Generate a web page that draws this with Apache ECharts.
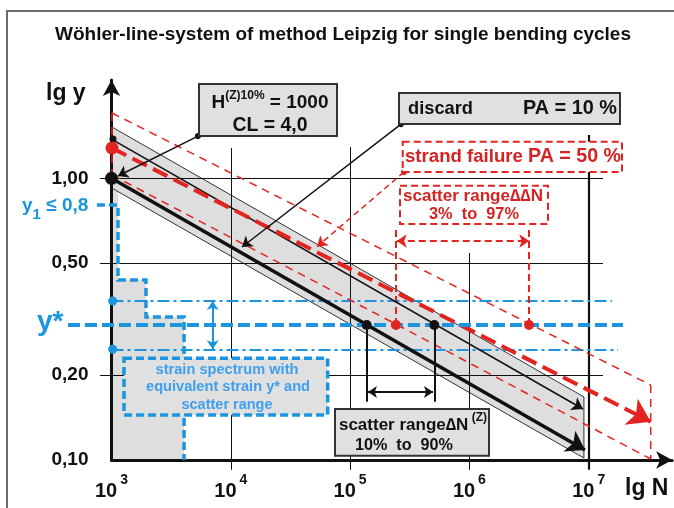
<!DOCTYPE html>
<html><head><meta charset="utf-8">
<script src="https://cdn.jsdelivr.net/npm/echarts@6/dist/echarts.min.js"></script>
<style>html,body{margin:0;padding:0;background:#fff}#c{width:674px;height:508px}</style>
</head><body><div id="c"></div>
<script>
// ---------- data (lg N , lg y) ----------
const xTicks = [3, 4, 5, 6, 7];
const xTickLabels = ['3', '4', '5', '6', '7'];
const yTickValues = [0, -0.301, -0.699, -1];
const yTickLabels = ['1,00', '0,50', '0,20', '0,10'];

const yStar = -0.521;            // equivalent strain y*
const yStarUpper = -0.4356;      // scatter band of spectrum
const yStarLower = -0.607;

// Wöhler lines
const lineH10 = [[3, 0], [6.969, -0.9645]];
const lineUpper = [[3, 0.139], [6.952, -0.819]];
const bandPoly = [[3, 0.183], [6.96, -0.776], [6.96, -0.993], [3, -0.034]];
const lineStrand50 = [[3.004, 0.1075], [7.52, -0.864]];
const redUpper = [[3.004, 0.232], [7.52, -0.734]];
const redLower = [[3.004, 0.0117], [5.385, -0.518], [7.52, -0.9964]];
const redLeftEdge = [[3.004, 0.232], [3.004, 0.0117]];
const redRightEdge = [[7.52, -0.734], [7.52, -0.9964]];

// strain spectrum staircase
const spectrumSteps = [[2.878, -0.0948], [3.0545, -0.0948], [3.0545, -0.361], [3.289, -0.361], [3.289, -0.4924], [3.608, -0.4924], [3.608, -1]];
const spectrumArea = [[3, -0.0415], [3.0545, -0.0415], [3.0545, -0.361], [3.289, -0.361], [3.289, -0.4924], [3.608, -0.4924], [3.608, -1], [3, -1]];

// points
const blackBig = [[3, 0]];
const blackSmall = [[3.0126, 0.1395]];
const blackStar = [[5.139, yStar], [5.706, yStar]];
const redBig = [[3.004, 0.1075]];
const redStar = [[5.385, yStar], [6.50, yStar]];
const blueDots = [[3.01, yStarUpper], [3.01, yStarLower]];

// scatter ranges
const dNVert = [[[5.139, yStar], [5.139, -0.793]], [[5.706, yStar], [5.706, -0.793]]];
const dNArrow = [[5.150, -0.7586], [5.695, -0.7586]];
const ddNVert = [[[5.385, yStar], [5.385, -0.1718]], [[6.50, yStar], [6.50, -0.1718]]];
const ddNArrow = [[5.391, -0.2226], [6.502, -0.2226]];
const blueArrow = [[3.848, yStarUpper], [3.848, yStarLower]];

// grid lines
const gridH = [[[2.904, 0], [7.12, 0]], [[2.904, -0.301], [7.12, -0.301]], [[2.904, -0.699], [7.12, -0.699]]];
const gridV = [[[4, 0.1076], [4, -1.035]], [[5, 0.111], [5, -1.035]], [[6, -0.2652], [6, -1.035]]];
const gridV7 = [[[7, 0.154], [7, -1.035]]];

// horizontal spectrum lines
const yStarLine = [[2.635, yStar], [7.288, yStar]];
const yStarUpperLine = [[3, yStarUpper], [7.195, yStarUpper]];
const yStarLowerLine = [[3, yStarLower], [7.246, yStarLower]];

// leader lines of the labels
const hLeader = [[3.725, 0.150], [3.0545, 0.0082]];
const discardLeader = [[5.427, 0.1925], [4.094, -0.2439]];
const strandLeader = [[5.452, 0.0224], [4.723, -0.2428]];

// ---------- styles ----------
const FONT = "'Liberation Sans', Arial, sans-serif";
const RED = '#e2231f', RED_T = '#d52222', BLUE = '#1a95de', BLUE_T = '#3e9fec', GRAY = '#dedede', INK = '#111';
const ctx = document.createElement('canvas').getContext('2d');
function fit(text, w, weight) {
  ctx.font = (weight || 'bold') + ' 20px ' + FONT;
  return Math.round(2000 * w / ctx.measureText(text).width) / 100;
}

const series = [];
function seg(list, color, width, type, symbol, symSize, z) {
  series.push({
    type: 'lines', coordinateSystem: 'cartesian2d', clip: false, silent: true, z: z,
    polyline: list.some(c => c.length > 2),
    symbol: symbol || ['none', 'none'], symbolSize: symSize || 10,
    lineStyle: { color: color, width: width, type: type || 'solid', opacity: 1 },
    data: list.map(c => ({ coords: c }))
  });
}
function dots(data, color, size, z) {
  series.push({ type: 'scatter', data: data, symbolSize: size, itemStyle: { color: color, opacity: 1 }, z: z, silent: true, clip: false });
}
function poly(points, fill, stroke, z) {
  series.push({
    type: 'custom', coordinateSystem: 'cartesian2d', z: z, silent: true, clip: false, data: [points[0]],
    renderItem: (p, api) => ({ type: 'polygon', shape: { points: points.map(pt => api.coord(pt)) }, style: { fill: fill, stroke: stroke || 'none', lineWidth: 1 } })
  });
}

poly(spectrumArea, GRAY, null, 1);
poly(bandPoly, GRAY, '#333', 1);
seg(gridH, INK, 1, 'solid', null, null, 2);
seg(gridV, INK, 1, 'solid', null, null, 2);
seg(gridV7, INK, 2.2, 'solid', null, null, 2);
seg([yStarUpperLine, yStarLowerLine], BLUE, 2, [12, 4, 3, 4], null, null, 6);
seg([redUpper, redLower, redLeftEdge, redRightEdge], RED, 1.5, [8, 6], null, null, 7);
seg(ddNVert, RED, 2, [7, 4], null, null, 7);
seg([ddNArrow], RED, 2, [7, 4], ['arrow', 'arrow'], 10, 7);
seg([lineUpper], INK, 1.6, 'solid', ['none', 'arrow'], 11, 8);
seg([lineH10], INK, 3.6, 'solid', ['none', 'arrow'], 18, 8);
seg(dNVert, INK, 2, 'solid', null, null, 8);
seg([dNArrow], INK, 1.8, 'solid', ['arrow', 'arrow'], 9, 8);
seg([lineStrand50], RED, 4, [16, 7], ['none', 'arrow'], 22, 9);
seg([yStarLine], BLUE, 4, [12, 5], null, null, 10);
seg([spectrumSteps], BLUE, 3.5, [8, 4], null, null, 10);
seg([blueArrow], BLUE, 2, 'solid', ['arrow', 'arrow'], 9, 10);
seg([hLeader, discardLeader], INK, 1.5, 'solid', ['circle', 'arrow'], [6, 10], 11);
seg([strandLeader], RED, 1.5, [6, 4], ['circle', 'arrow'], [6, 10], 11);
dots(blackBig, INK, 13, 12);
dots(blackSmall, INK, 7, 12);
dots(blackStar, INK, 10, 12);
dots(redBig, RED, 13, 12);
dots(redStar, RED, 10, 12);
dots(blueDots, BLUE, 9, 12);

function txt(text, x, y, size, color, align) {
  return { type: 'text', x: x, y: y, z: 110, silent: true,
    style: { text: text, font: 'bold ' + size + 'px ' + FONT, fill: color || INK, align: align || 'left', verticalAlign: 'middle' } };
}
function box(x, y, w, h, fill, stroke, lw, dash) {
  return { type: 'rect', z: 100, silent: true, shape: { x: x, y: y, width: w, height: h },
    style: { fill: fill, stroke: stroke, lineWidth: lw, lineDash: dash || null } };
}
function rich(text, x, y, align, color, styles) {
  return { type: 'text', x: x, y: y, z: 110, silent: true,
    style: { text: text, align: align, verticalAlign: 'middle', fill: color, rich: styles } };
}
const TITLE = 'Wöhler-line-system of method Leipzig for single bending cycles';
const T = {
  cl: 'CL = 4,0', discard: 'discard', pa10: 'PA = 10 %', strand: 'strand failure', pa50: 'PA = 50 %',
  dd1: 'scatter range∆∆N', dd2: '3%  to  97%', dn2: '10%  to  90%',
  b1: 'strain spectrum with', b2: 'equivalent strain y* and', b3: 'scatter range'
};

const graphic = [
  { type: 'polyline', z: 100, silent: true, shape: { points: [[7, 508], [7, 11], [674, 11]] }, style: { stroke: '#6b6b6b', lineWidth: 2, fill: null } },
  txt(TITLE, 343, 35, fit(TITLE, 576), INK, 'center'),
  txt('lg y', 46, 94, 23),
  txt('lg N', 625, 489, 23),
  rich('{a|y}{s|1}{a| ≤ 0,8}', 22, 209, 'left', BLUE, {
    a: { fontSize: 19, fontWeight: 'bold', fontFamily: FONT, fill: BLUE, lineHeight: 26, verticalAlign: 'top' },
    s: { fontSize: 15, fontWeight: 'bold', fontFamily: FONT, fill: BLUE, lineHeight: 26, verticalAlign: 'bottom' } }),
  txt('y*', 37, 322, 28, BLUE),
  // H box
  box(199, 84, 138, 52, '#e0e0e0', '#333', 2),
  rich('{b|H}{s|(Z)10%}{b| = 1000}', 270, 101, 'center', INK, {
    b: { fontSize: 19, fontWeight: 'bold', fontFamily: FONT, lineHeight: 22, verticalAlign: 'bottom' },
    s: { fontSize: 12, fontWeight: 'bold', fontFamily: FONT, lineHeight: 22, verticalAlign: 'top' } }),
  txt(T.cl, 270, 126, fit(T.cl, 75), INK, 'center'),
  // discard
  box(399, 93, 221, 31, '#e0e0e0', '#333', 2),
  txt(T.discard, 408, 109, fit(T.discard, 65)),
  txt(T.pa10, 617, 109, fit(T.pa10, 94), INK, 'right'),
  // strand failure
  box(402.7, 141.7, 219.3, 30.3, '#fff', RED, 2, [7, 4]),
  txt(T.strand, 405, 157, fit(T.strand, 118), RED_T),
  txt(T.pa50, 621, 157, fit(T.pa50, 93), RED_T, 'right'),
  // scatter range ΔΔN
  box(400, 185.7, 148, 38.3, '#fff', RED, 2, [7, 4]),
  txt(T.dd1, 473, 196, fit(T.dd1, 140), RED_T, 'center'),
  txt(T.dd2, 474, 214, fit(T.dd2, 90), RED_T, 'center'),
  // scatter range ΔN(Z)
  box(335, 409, 154, 46.7, '#e0e0e0', '#333', 2),
  rich('{b|scatter range∆N}{s| (Z)}', 413, 423, 'center', INK, {
    b: { fontSize: 17, fontWeight: 'bold', fontFamily: FONT, lineHeight: 22, verticalAlign: 'bottom' },
    s: { fontSize: 12, fontWeight: 'bold', fontFamily: FONT, lineHeight: 22, verticalAlign: 'top' } }),
  txt(T.dn2, 404, 446, fit(T.dn2, 98), INK, 'center'),
  // strain spectrum
  box(124, 358.3, 203.7, 56.7, '#e0e0e0', BLUE, 3.5, [8, 4]),
  txt(T.b1, 227, 370, fit(T.b1, 143), BLUE_T, 'center'),
  txt(T.b2, 228, 387, fit(T.b2, 164), BLUE_T, 'center'),
  txt(T.b3, 227, 405, fit(T.b3, 91), BLUE_T, 'center')
];

const chart = echarts.init(document.getElementById('c'), null, { renderer: 'canvas' });
chart.setOption({
  animation: false,
  backgroundColor: '#fff',
  grid: { left: 111.5, right: 1.8, top: 80, bottom: 48, containLabel: false, outerBoundsMode: 'none' },
  xAxis: {
    type: 'value', min: 3, max: 7.7, interval: 1, z: 5,
    axisLine: { show: true, onZero: false, symbol: ['none', 'arrow'], symbolSize: [13, 16], lineStyle: { color: INK, width: 3 } },
    axisTick: { show: false }, splitLine: { show: false },
    axisLabel: {
      margin: 13, showMaxLabel: false,
      formatter: v => { const i = xTicks.findIndex(t => Math.abs(t - v) < 1e-6); return i < 0 ? '' : '{b|10}{s|' + xTickLabels[i] + '}'; },
      rich: {
        b: { fontSize: 20, fontWeight: 'bold', fontFamily: FONT, color: INK, lineHeight: 28, verticalAlign: 'bottom' },
        s: { fontSize: 14, fontWeight: 'bold', fontFamily: FONT, color: INK, lineHeight: 28, verticalAlign: 'top', padding: [0, 0, 0, 3] }
      }
    }
  },
  yAxis: {
    type: 'value', min: -1, max: 0.349, z: 5,
    axisLine: { show: true, onZero: false, symbol: ['none', 'arrow'], symbolSize: [13, 16], lineStyle: { color: INK, width: 3 } },
    axisTick: { show: false }, splitLine: { show: false },
    axisLabel: {
      customValues: yTickValues, margin: 23, fontSize: 19, fontWeight: 'bold', fontFamily: FONT, color: INK,
      formatter: v => { const i = yTickValues.findIndex(t => Math.abs(t - v) < 1e-6); return i < 0 ? '' : yTickLabels[i]; }
    }
  },
  series: series,
  graphic: graphic
});
</script></body></html>
